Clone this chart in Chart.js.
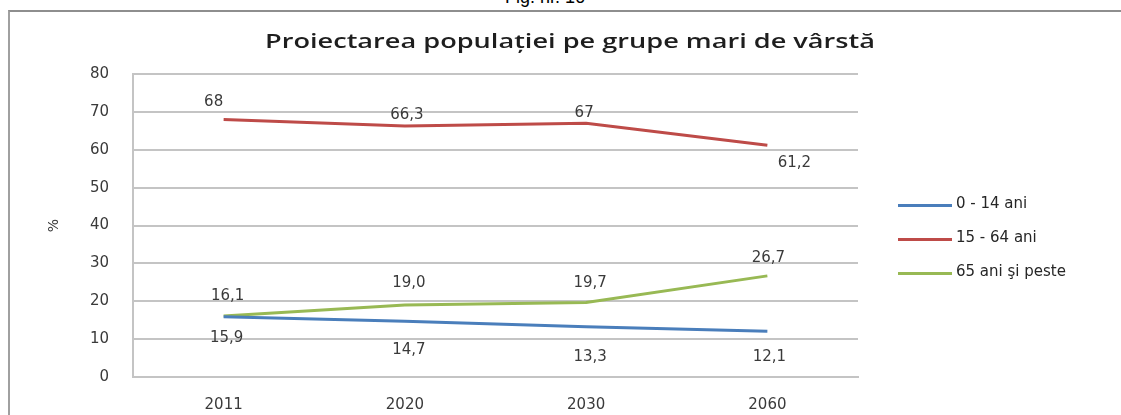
<!DOCTYPE html>
<html>
<head>
<meta charset="utf-8">
<script src="https://cdn.jsdelivr.net/npm/chart.js@4.4.0/dist/chart.umd.min.js"></script>
<style>
  body { margin: 0; background: #fff; width: 1121px; height: 415px; overflow: hidden; position: relative; font-family: "DejaVu Sans", sans-serif; }
  #fig { position: absolute; top: -13px; left: 470px; width: 150px; text-align: center; font: 18px "Liberation Sans", Arial, sans-serif; color: #000; }
  #frame { position: absolute; left: 8px; top: 10px; right: -10px; bottom: -10px; border-top: 2px solid #8e8e8e; border-left: 2px solid #a0a0a0; }
  #title { position: absolute; top: 27px; left: 570px; white-space: nowrap; font: 600 20px "Open Sans", sans-serif; color: #1e1e1e; transform-origin: 0 0; }
  #wrap { position: absolute; left: 0; top: 0; width: 1121px; height: 415px; }
  #legend { position: absolute; left: 898px; top: 194px; font: 15px "DejaVu Sans", sans-serif; color: #262626; }
  .item { height: 34px; display: flex; align-items: flex-start; }
  .swatch { width: 54px; height: 3px; margin-top: 10px; margin-right: 4px; }
</style>
</head>
<body>
<div id="fig">Fig. nr. 16</div>
<div id="frame"></div>
<div id="wrap"><canvas id="chart"></canvas></div>
<div id="title">Proiectarea populației pe grupe mari de vârstă</div>
<div id="legend"></div>
<script>
// ---- Data ----
const years = ["2011", "2020", "2030", "2060"];
const seriesNames = ["0 - 14 ani", "15 - 64 ani", "65 ani şi peste"];
const young = [15.9, 14.7, 13.3, 12.1];
const adults = [68, 66.3, 67, 61.2];
const elderly = [16.1, 19.0, 19.7, 26.7];
const yTicks = [0, 10, 20, 30, 40, 50, 60, 70, 80];

const colors = ["#4a7ebb", "#be4b48", "#98b954"];

// label text as printed (comma decimals)
function fmt(v, fixed) {
  return (fixed ? v.toFixed(1) : String(v)).replace(".", ",");
}

// label offsets in px relative to each point: [dx, dy]
const labelOffsets = [
  [[3, 21], [4, 29], [4, 30], [2, 26]],
  [[-10, -17], [2, -11], [-2, -10], [27, 18]],
  [[4, -20], [4, -22], [4, -19], [1, -18]],
];

const dataLabels = {
  id: "dataLabels",
  afterDatasetsDraw(chart) {
    const ctx = chart.ctx;
    ctx.save();
    ctx.font = "15px 'DejaVu Sans', sans-serif";
    ctx.fillStyle = "#3a3a3a";
    ctx.textAlign = "center";
    ctx.textBaseline = "middle";
    chart.data.datasets.forEach((ds, i) => {
      chart.getDatasetMeta(i).data.forEach((pt, j) => {
        const [dx, dy] = labelOffsets[i][j];
        ctx.fillText(fmt(ds.data[j], i !== 1), pt.x + dx, pt.y + dy);
      });
    });
    ctx.restore();
  },
};

const grey = "#c4c4c4";

new Chart(document.getElementById("chart"), {
  type: "line",
  data: {
    labels: years,
    datasets: [young, adults, elderly].map((d, i) => ({
      label: seriesNames[i],
      data: d,
      borderColor: colors[i],
      backgroundColor: colors[i],
      borderWidth: 3,
      pointRadius: 0,
      tension: 0,
    })),
  },
  options: {
    responsive: true,
    maintainAspectRatio: false,
    animation: false,
    layout: { padding: { top: 74, left: 0, right: 1121 - 858, bottom: 0 } },
    plugins: {
      legend: { display: false },
      title: { display: false },
      tooltip: { enabled: false },
    },
    scales: {
      x: {
        offset: true,
        afterFit: s => { s.height = 38; },
        grid: { display: false, drawTicks: false },
        border: { display: true, color: grey, width: 2 },
        ticks: { padding: 19, color: "#3a3a3a", font: { family: "DejaVu Sans", size: 15 } },
      },
      y: {
        min: 0,
        max: 80,
        afterFit: s => { s.width = 133; },
        afterBuildTicks: s => { s.ticks = yTicks.map(v => ({ value: v })); },
        grid: { color: grey, lineWidth: 2, drawTicks: false },
        border: { display: true, color: grey, width: 2 },
        ticks: { padding: 24, color: "#3a3a3a", font: { family: "DejaVu Sans", size: 15 } },
        title: { display: true, text: "%", color: "#3a3a3a", padding: { top: 46 }, font: { family: "DejaVu Sans", size: 14 } },
      },
    },
  },
  plugins: [dataLabels],
});

// ---- Title: stretch to the width it has in the figure (265..875) ----
const title = document.getElementById("title");
const w = title.getBoundingClientRect().width;
const sx = 610 / w;
title.style.left = (265) + "px";
title.style.transform = `scaleX(${sx})`;

// ---- Legend ----
const legend = document.getElementById("legend");
seriesNames.forEach((name, i) => {
  const row = document.createElement("div");
  row.className = "item";
  row.innerHTML = `<span class="swatch" style="background:${colors[i]}"></span><span>${name}</span>`;
  legend.appendChild(row);
});
</script>
</body>
</html>
